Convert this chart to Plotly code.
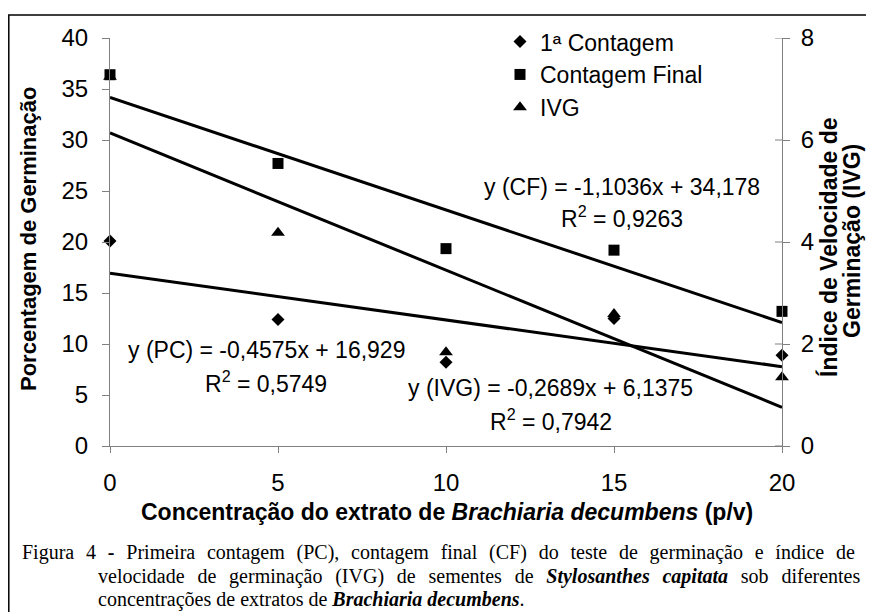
import plotly.graph_objects as go

# ---- data ----
conc = [0, 5, 10, 15, 20]
pc = [20.1, 12.4, 8.2, 12.5, 8.9]          # 1a Contagem (%)
cf = [36.4, 27.7, 19.35, 19.2, 13.2]       # Contagem Final (%)
ivg = [7.24, 4.18, 1.84, 2.59, 1.35]       # IVG (right axis)

reg_names = ["PC", "CF", "IVG"]
reg_slope = [-0.4575, -1.1036, -0.2689]
reg_inter = [16.929, 34.178, 6.1375]
reg_r2 = ["0,5749", "0,9263", "0,7942"]

x_ticks = [0, 5, 10, 15, 20]
y_ticks = [0, 5, 10, 15, 20, 25, 30, 35, 40]
y2_ticks = [0, 2, 4, 6, 8]

# the page body adds an 8px offset; figure is sized so that it fits the window
OFF = 8
W, H = 866 - OFF, 612 - OFF
L, R, T, B = 110, 782, 36, 446   # plot area in window pixels


def px(x):
    return (x - L) / (R - L)


def py(y):
    return (B - y) / (B - T)


SANS = "Liberation Sans, Arial, sans-serif"
SERIF = "Liberation Serif, Times New Roman, serif"
AXC = "#808080"

fig = go.Figure()

fig.add_trace(go.Scatter(x=conc, y=pc, mode="markers", name="1ª Contagem",
                         marker=dict(symbol="diamond", size=10, color="black"),
                         cliponaxis=False, legendgroup="a"))
fig.add_trace(go.Scatter(x=conc, y=cf, mode="markers", name="Contagem Final",
                         marker=dict(symbol="square", size=11, color="black"),
                         cliponaxis=False, legendgroup="b"))
fig.add_trace(go.Scatter(x=conc, y=ivg, mode="markers", name="IVG", yaxis="y2",
                         marker=dict(symbol="triangle-up", size=12, color="black"),
                         cliponaxis=False, legendgroup="c"))

# regression lines from the equations
xr = [conc[0], conc[-1]]
for i, nm in enumerate(reg_names):
    ys = [reg_inter[i] + reg_slope[i] * v for v in xr]
    fig.add_trace(go.Scatter(x=xr, y=ys, mode="lines", showlegend=False,
                             yaxis="y2" if nm == "IVG" else "y",
                             line=dict(color="black", width=3), cliponaxis=False,
                             hoverinfo="skip"))


def fmt(v, d):
    return f"{v:.{d}f}".replace(".", ",")


FS = 23
eq_pos = {"CF": (622, 186, 622, 216), "PC": (266, 350, 266, 382), "IVG": (550, 388, 551, 420)}
eq_dec = {"PC": (4, 3), "CF": (4, 3), "IVG": (4, 4)}
annotations = []
for i, nm in enumerate(reg_names):
    ex, ey, rx, ry = eq_pos[nm]
    ds, di = eq_dec[nm]
    txt = f"y ({nm}) = {fmt(reg_slope[i], ds)}x + {fmt(reg_inter[i], di)}"
    annotations.append(dict(x=px(ex), y=py(ey), xref="paper", yref="paper", text=txt,
                            showarrow=False, font=dict(family=SANS, size=FS, color="black"),
                            xanchor="center", yanchor="middle"))
    annotations.append(dict(x=px(rx), y=py(ry), xref="paper", yref="paper",
                            text=f"R<sup>2</sup> = {reg_r2[i]}",
                            showarrow=False, font=dict(family=SANS, size=FS, color="black"),
                            xanchor="center", yanchor="middle"))

# axis titles
annotations.append(dict(x=px(447), y=py(512), xref="paper", yref="paper",
                        text="<b>Concentração do extrato de <i>Brachiaria decumbens</i> (p/v)</b>",
                        showarrow=False, font=dict(family=SANS, size=23, color="black"),
                        xanchor="center", yanchor="middle"))
annotations.append(dict(x=px(28), y=py(238), xref="paper", yref="paper",
                        text="<b>Porcentagem de Germinação</b>", textangle=-90,
                        showarrow=False, font=dict(family=SANS, size=22, color="black"),
                        xanchor="center", yanchor="middle"))
right_title = ["<b>Índice de Velocidade de</b>", "<b>Germinação (IVG)</b>"]
for (tx, ty), t in zip([(829, 247), (852, 240)], right_title):
    annotations.append(dict(x=px(tx), y=py(ty), xref="paper", yref="paper",
                            text=t, textangle=-90,
                            showarrow=False, font=dict(family=SANS, size=23, color="black"),
                            xanchor="center", yanchor="middle"))

# caption (first two lines justified via word spacing)
cap = [
    (20, 553, 6.8, "Figura 4 <b>-</b> Primeira contagem (PC), contagem final (CF) do teste de germinação e índice de"),
    (96, 577, 7.8, "velocidade de germinação (IVG) de sementes de <b><i>Stylosanthes capitata</i></b> sob diferentes"),
    (96, 600, 0, "concentrações de extratos de <b><i>Brachiaria decumbens</i></b>."),
]
for cx, cy, ws, t in cap:
    if ws:
        t = f'<span style="word-spacing:{ws}px">{t}</span>'
    annotations.append(dict(x=px(cx), y=py(cy), xref="paper", yref="paper", text=t,
                            showarrow=False, font=dict(family=SERIF, size=20, color="black"),
                            xanchor="left", yanchor="middle"))

shapes = [dict(type="rect", xref="paper", yref="paper",
               x0=px(8.8), x1=px(880), y0=py(620), y1=py(13),
               line=dict(color="black", width=1.5), layer="below")]
for v in y2_ticks:
    shapes.append(dict(type="line", xref="paper", yref="y2", x0=px(R - 7), x1=1,
                       y0=v, y1=v, line=dict(color=AXC, width=1)))

fig.update_layout(
    width=W, height=H, autosize=False,
    margin=dict(l=L - OFF, r=W - (R - OFF), t=T - OFF, b=H - (B - OFF)),
    paper_bgcolor="white", plot_bgcolor="white",
    font=dict(family=SANS, size=23, color="black"),
    xaxis=dict(range=[0, 20], tickvals=x_ticks, ticks="outside", ticklen=6,
               tickcolor=AXC, showline=True, linecolor=AXC, linewidth=1,
               showgrid=False, zeroline=False, ticklabelstandoff=9,
               tickfont=dict(family=SANS, size=24)),
    yaxis=dict(range=[0, 40], tickvals=y_ticks, ticks="outside", ticklen=7,
               tickcolor=AXC, showline=True, linecolor=AXC, linewidth=1,
               showgrid=False, zeroline=False, ticklabelstandoff=9,
               tickfont=dict(family=SANS, size=24)),
    yaxis2=dict(range=[0, 8], tickvals=y2_ticks, ticks="outside", ticklen=7,
                tickcolor=AXC, showline=True, linecolor=AXC, linewidth=1,
                showgrid=False, zeroline=False, overlaying="y", side="right",
                ticklabelstandoff=6, tickfont=dict(family=SANS, size=24)),
    legend=dict(x=px(500), y=py(18), xanchor="left", yanchor="top",
                bgcolor="rgba(0,0,0,0)", font=dict(family=SANS, size=23),
                tracegroupgap=0, itemwidth=30),
    annotations=annotations,
    shapes=shapes,
    showlegend=True,
)

fig.write_html("out.html")
